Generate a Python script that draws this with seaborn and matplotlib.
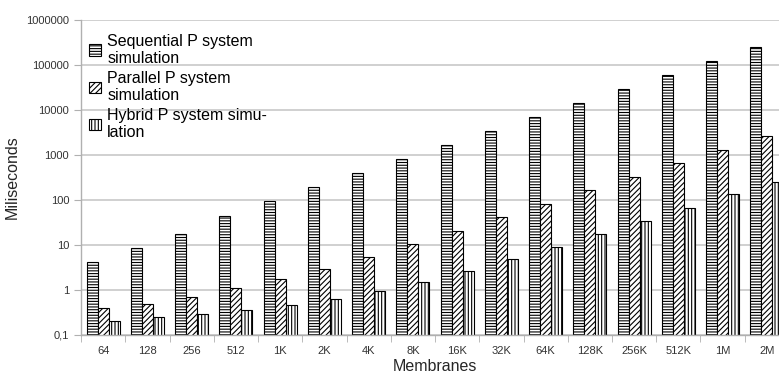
import pandas as pd
import matplotlib.pyplot as plt
import seaborn as sns

# Data (milliseconds, log scale)
membranes = ['64', '128', '256', '512', '1K', '2K', '4K', '8K',
             '16K', '32K', '64K', '128K', '256K', '512K', '1M', '2M']
sequential = [4.2, 8.4, 17.5, 45, 93, 190, 390, 800,
              1650, 3400, 7000, 14000, 29000, 60000, 120000, 245000]
parallel = [0.40, 0.49, 0.69, 1.09, 1.75, 3.0, 5.5, 10.5,
            21, 41, 81, 163, 330, 650, 1310, 2700]
hybrid = [0.21, 0.25, 0.30, 0.365, 0.46, 0.62, 0.94, 1.48,
          2.7, 4.8, 8.9, 17.6, 35, 67, 135, 255]
series_names = ['Sequential P system\nsimulation',
                'Parallel P system\nsimulation',
                'Hybrid P system simu-\nlation']
ytick_values = [0.1, 1, 10, 100, 1000, 10000, 100000, 1000000]
ytick_labels = ['0,1', '1', '10', '100', '1000', '10000', '100000', '1000000']

rows = []
for name, vals in zip(series_names, [sequential, parallel, hybrid]):
    for m, v in zip(membranes, vals):
        rows.append({'Membranes': m, 'ms': v, 'series': name})
df = pd.DataFrame(rows)

sns.set_style('white')
plt.rcParams['font.family'] = ['Liberation Sans', 'DejaVu Sans']
plt.rcParams['hatch.linewidth'] = 0.8

fig = plt.figure(figsize=(7.79, 3.76), dpi=100)
ax = fig.add_axes([81 / 779, 41 / 376, 708 / 779, 315 / 376])

sns.barplot(data=df, x='Membranes', y='ms', hue='series', order=membranes,
            hue_order=series_names, width=0.75, gap=0,
            palette=['white'] * 3, edgecolor='black', linewidth=0.8,
            legend=False, ax=ax)

hatches = ['------', '//////', '|||||']
for cont, h in zip(ax.containers, hatches):
    for bar in cont:
        bar.set_hatch(h)
        bar.set_edgecolor('black')

ax.set_yscale('log')
ax.set_ylim(0.1, 1000000)
ax.set_xlim(-0.5, len(membranes) - 0.5)
ax.set_yticks(ytick_values)
ax.set_yticklabels(ytick_labels)
ax.minorticks_off()
ax.yaxis.grid(True, color='#c8c8c8', linewidth=1.2)
ax.set_axisbelow(True)

# category separators as small ticks below the axis
ax.set_xticks(range(len(membranes)))
ax.set_xticklabels(membranes)
ax.set_xticks([i - 0.5 for i in range(len(membranes) + 1)], minor=True)
ax.tick_params(axis='x', which='major', length=0, labelsize=8, pad=8, colors='#333333')
ax.tick_params(axis='x', which='minor', length=5, color='#b0b0b0', bottom=True)
ax.tick_params(axis='y', which='major', length=5, color='#b0b0b0', labelsize=8,
               left=True, labelcolor='#333333')

for side in ['top', 'right']:
    ax.spines[side].set_visible(False)
for side in ['left', 'bottom']:
    ax.spines[side].set_color('#b0b0b0')
    ax.spines[side].set_linewidth(1.0)

ax.set_xlabel('Membranes', fontsize=11.5, labelpad=2)
ax.set_ylabel('Miliseconds', fontsize=11.5)
ax.yaxis.set_label_coords((20 - 81) / 708, 0.5)

leg = ax.legend(ax.containers, series_names, loc='upper left',
                bbox_to_anchor=(-0.008, 1.0), frameon=False, fontsize=11.5,
                handlelength=0.75, handleheight=0.75, handletextpad=0.4,
                labelspacing=0.3, borderaxespad=0.45)
for t in leg.get_texts():
    t.set_color('black')

plt.savefig('out.png', dpi=100)
plt.close()
